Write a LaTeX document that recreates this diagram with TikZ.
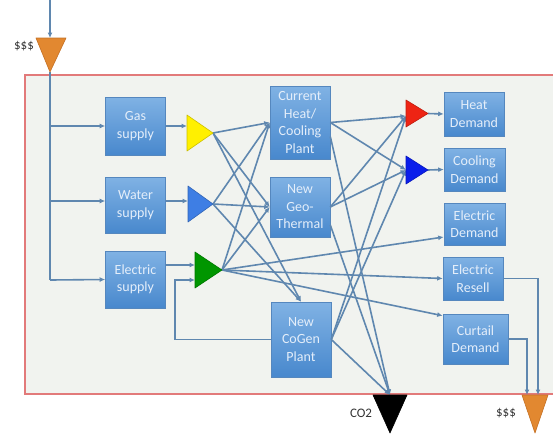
\documentclass[tikz,border=0pt]{standalone}
\usepackage{fontspec}
\setmainfont{Carlito}
\usetikzlibrary{arrows.meta}

\definecolor{flowline}{RGB}{95,135,175}
\definecolor{boxtop}{RGB}{128,178,228}
\definecolor{boxbot}{RGB}{72,136,205}
\definecolor{boxline}{RGB}{85,135,190}
\definecolor{boxtext}{RGB}{228,238,250}
\definecolor{frameline}{RGB}{226,122,122}
\definecolor{framefill}{RGB}{241,243,239}
\definecolor{money}{RGB}{226,136,48}
\definecolor{moneyline}{RGB}{196,112,36}
\definecolor{waterblue}{RGB}{62,126,228}
\definecolor{elecgreen}{RGB}{0,150,0}
\definecolor{heatred}{RGB}{238,36,20}
\definecolor{coolblue}{RGB}{10,30,235}
\definecolor{gasyellow}{RGB}{255,240,0}

\begin{document}
\begin{tikzpicture}[x=1pt, y=-1pt,
    unit/.style={draw=boxline, line width=0.6pt, top color=boxtop, bottom color=boxbot,
      text=boxtext, align=center, inner sep=0pt, minimum width=60pt,
      font=\fontsize{14}{17.5}\selectfont},
    flow/.style={draw=flowline, line width=1.6pt, -{Latex[length=5.5pt,width=5pt]}},
    wire/.style={draw=flowline, line width=1.6pt},
    tri/.style={line width=0.6pt, line join=round},
    tag/.style={text=black!80, font=\fontsize{13}{15}\selectfont, inner sep=0pt}]
  \useasboundingbox (0,0) rectangle (553,434);
  \clip (0,0) rectangle (553,434);

  % Frame
  \draw[frameline, fill=framefill, line width=1.5pt] (25,75) rectangle (575,394);

  % Supply part
  \node[unit, minimum height=58pt] (gas) at (135.5,126) {Gas\\supply};
  \node[unit, minimum height=56pt] (water) at (135.5,205) {Water\\supply};
  \node[unit, minimum height=57pt] (elec) at (135.5,279.5) {Electric\\supply};

  % Plant part
  \node[unit, minimum height=73pt] (cur) at (300,122.5) {Current\\Heat/\\Cooling\\Plant};
  \node[unit, minimum height=60pt] (geo) at (300,207) {New\\Geo-\\Thermal};
  \node[unit, minimum height=75pt] (cogen) at (301,339.5) {New\\CoGen\\Plant};

  % Demand part
  \node[unit, minimum height=44pt] (heat) at (474,114) {Heat\\Demand};
  \node[unit, minimum height=43pt, minimum width=61pt] (cool) at (474.5,169.5) {Cooling\\Demand};
  \node[unit, minimum height=42pt, minimum width=61pt] (edem) at (474.5,224) {Electric\\Demand};
  \node[unit, minimum height=43pt] (resell) at (473,278.5) {Electric\\Resell};
  \node[unit, minimum height=50pt, minimum width=65pt] (curtail) at (475.5,339) {Curtail\\Demand};

  % Labels
  \node[tag] (buy) at (24,46) {\$\$\$};
  \node[tag] (co2) at (361,413) {CO2};
  \node[tag] (sell) at (506,413) {\$\$\$};

  % Junctions
  \coordinate (src) at (50,0);
  \coordinate (mtop) at (50,38);
  \coordinate (mbot) at (50,72);
  \coordinate (j1) at (50,126);
  \coordinate (j2) at (50,201);
  \coordinate (j3) at (50,280);
  \coordinate (yin) at (187,126);
  \coordinate (ya) at (213,133);
  \coordinate (win) at (188,201);
  \coordinate (wa) at (213,204);
  \coordinate (gin) at (195,265);
  \coordinate (gin2) at (195,280);
  \coordinate (fb) at (175,280);
  \coordinate (ga) at (222,270);
  \coordinate (rin) at (406,116);
  \coordinate (ra) at (428,113.5);
  \coordinate (bin) at (406,170);
  \coordinate (ba) at (428,170);
  \coordinate (co2in) at (390,395);
  \coordinate (m1in) at (538,395);
  \coordinate (m2in) at (527,395);

  % Supply lines
  \draw[flow] (src) -- (mtop);
  \draw[wire] (mbot) -- (j3);
  \draw[flow] (j1) -- (gas.west);
  \draw[flow] (j2) -- (j2 -| water.west);
  \draw[flow] (j3) -- (elec.west);
  \draw[flow] (gas.east) -- (yin);
  \draw[flow] (water.east |- win) -- (win);
  \draw[flow] (elec.east |- gin) -- (gin);
  \draw[flow] (cogen.west) -| (fb) -- (gin2);

  % Fuel to plants
  \draw[flow] (ya) -- (cur.west);
  \draw[flow] (ya) -- (geo.west);
  \draw[flow] (ya) -- (cogen.north);
  \draw[flow] (wa) -- (cur.west);
  \draw[flow] (wa) -- (geo.west);
  \draw[flow] (wa) -- (cogen.north);
  \draw[flow] (ga) -- (cur.west);
  \draw[flow] (ga) -- (geo.west);
  \draw[flow] (ga) -- ([yshift=-13pt]edem.west);
  \draw[flow] (ga) -- (resell.west);
  \draw[flow] (ga) -- ([yshift=-2pt]curtail.north west);

  % Plants to demand
  \draw[flow] (cur.east) -- (rin);
  \draw[flow] (cur.east) -- (bin);
  \draw[flow] ([yshift=-14pt]cur.east) -- (co2in);
  \draw[flow] (geo.east) -- (rin);
  \draw[flow] (geo.east) -- (bin);
  \draw[flow] ([yshift=-18pt]geo.east) -- (co2in);
  \draw[flow] (cogen.east) -- (rin);
  \draw[flow] (cogen.east) -- (bin);
  \draw[flow] (cogen.east) -- (co2in);
  \draw[flow] (ra) -- (heat.west);
  \draw[flow] (ba) -- (cool.west);
  \draw[flow] (resell.east) -| (m1in);
  \draw[flow] (curtail.east) -| (m2in);

  % Splitters
  \filldraw[tri, fill=money, draw=moneyline] (36,38) -- (66,38) -- (mbot) -- cycle;
  \filldraw[tri, fill=gasyellow, draw=gasyellow!80!black] (187,115) -- (187,151) -- (ya) -- cycle;
  \filldraw[tri, fill=waterblue, draw=waterblue!80!black] (188,186) -- (188,222) -- (wa) -- cycle;
  \filldraw[tri, fill=elecgreen, draw=elecgreen!80!black] (195,252) -- (195,288) -- (ga) -- cycle;
  \filldraw[tri, fill=heatred, draw=heatred!80!black] (406,100) -- (406,127) -- (ra) -- cycle;
  \filldraw[tri, fill=coolblue, draw=coolblue!80!black] (406,156) -- (406,184) -- (ba) -- cycle;
  \filldraw[tri, fill=black] (373,395) -- (407,395) -- (390,433) -- cycle;
  \filldraw[tri, fill=money, draw=moneyline] (522,395) -- (548,395) -- (535,433) -- cycle;
\end{tikzpicture}
\end{document}
